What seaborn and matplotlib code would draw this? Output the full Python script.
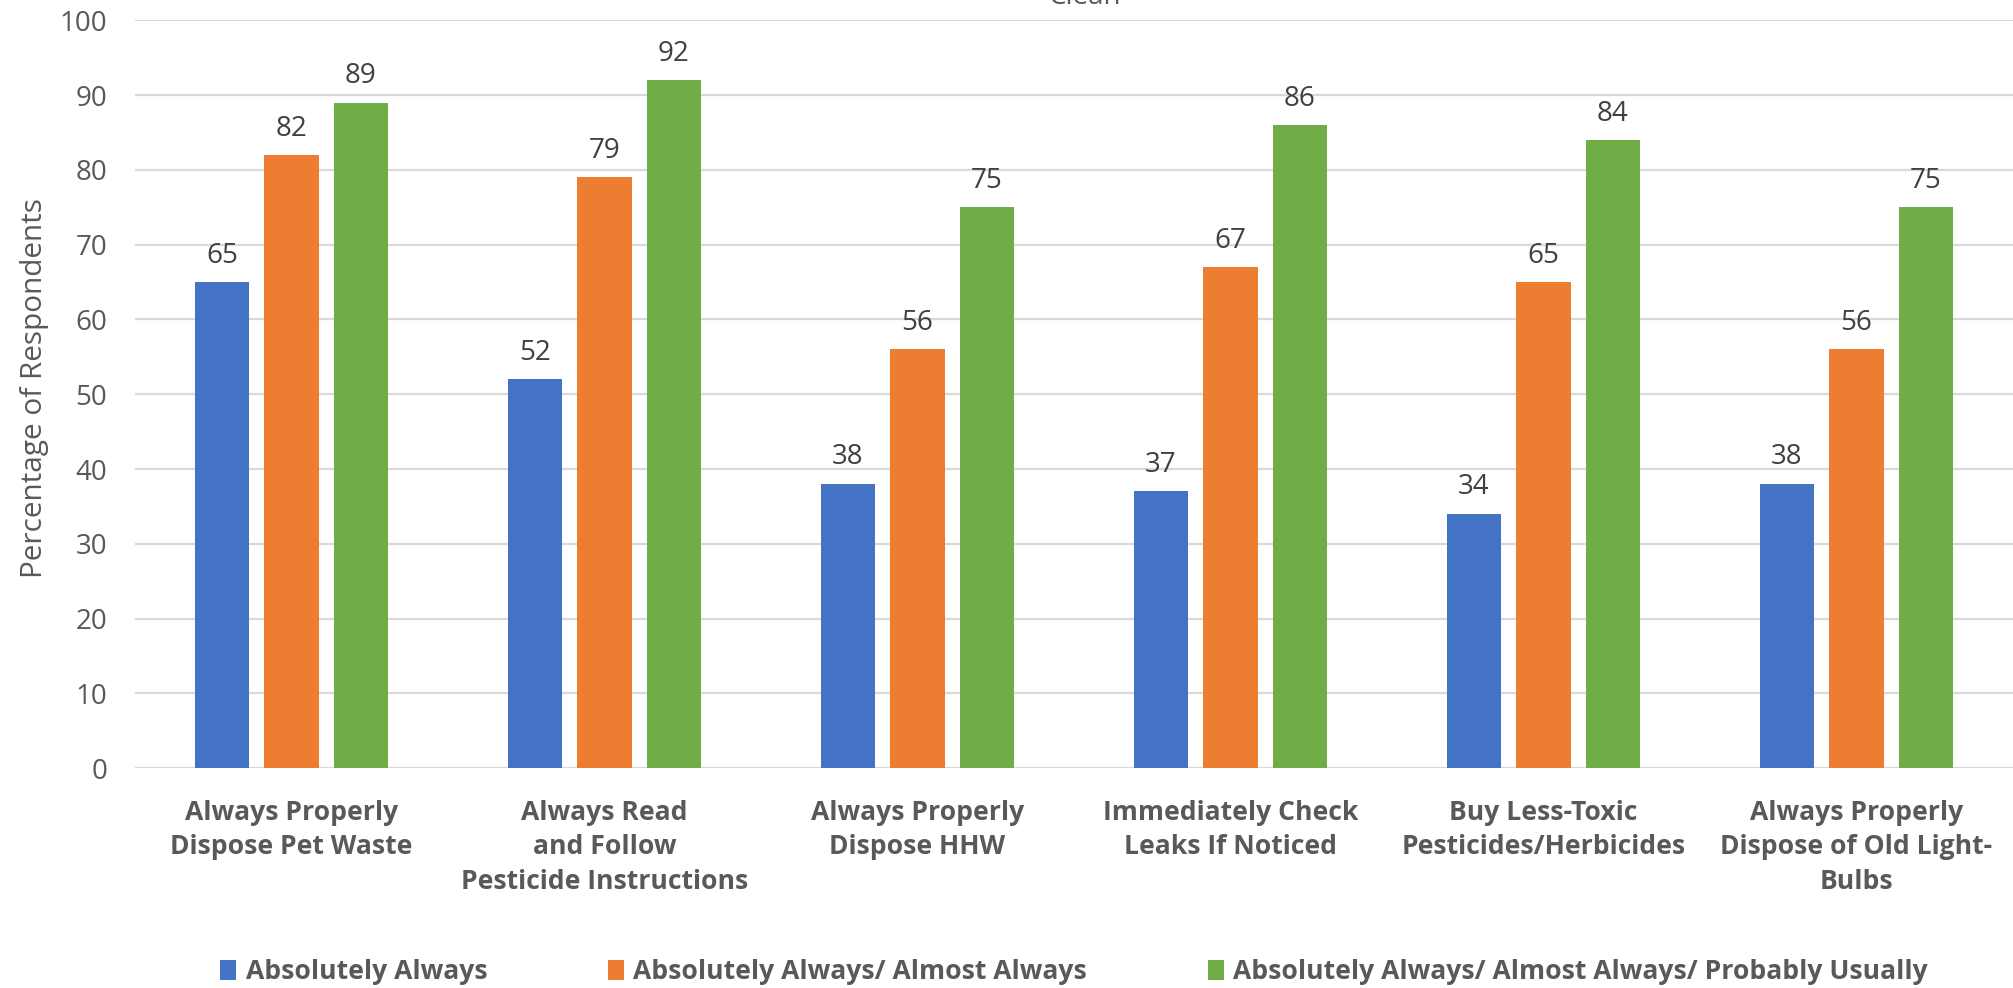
import matplotlib
matplotlib.use("Agg")
import matplotlib.pyplot as plt
from matplotlib.patches import Patch
import seaborn as sns
import pandas as pd

categories = [
    "Always Properly\nDispose Pet Waste",
    "Always Read\nand Follow\nPesticide Instructions",
    "Always Properly\nDispose HHW",
    "Immediately Check\nLeaks If Noticed",
    "Buy Less-Toxic\nPesticides/Herbicides",
    "Always Properly\nDispose of Old Light-\nBulbs",
]
series_names = [
    "Absolutely Always",
    "Absolutely Always/ Almost Always",
    "Absolutely Always/ Almost Always/ Probably Usually",
]
absolutely_always = [65, 52, 38, 37, 34, 38]
almost_always = [82, 79, 56, 67, 65, 56]
probably_usually = [89, 92, 75, 86, 84, 75]
y_ticks = [0, 10, 20, 30, 40, 50, 60, 70, 80, 90, 100]

colors = ["#4472C4", "#ED7D31", "#70AD47"]
text_gray = "#595959"
grid_gray = "#D9D9D9"

rows = []
for name, vals in zip(series_names, [absolutely_always, almost_always, probably_usually]):
    for cat, v in zip(categories, vals):
        rows.append({"Behavior": cat, "Series": name, "Percent": v})
df = pd.DataFrame(rows)

sns.set_theme(style="white")
plt.rcParams["font.family"] = ["Open Sans", "DejaVu Sans"]

fig = plt.figure(figsize=(20.13, 9.88), dpi=100)
ax = fig.add_axes([135 / 2013, 1 - 768 / 988, 1 - 135 / 2013, (768 - 20.5) / 988])

sns.barplot(
    data=df, x="Behavior", y="Percent", hue="Series",
    order=categories, hue_order=series_names, palette=colors,
    width=0.665, gap=0.22, saturation=1, legend=False, ax=ax,
    edgecolor="none",
)

for container in ax.containers:
    ax.bar_label(container, fmt="%d", padding=9, fontsize=20, color="#404040")

ax.set_xlim(-0.5, len(categories) - 0.5)
ax.set_ylim(0, 100)
ax.set_yticks(y_ticks)
ax.set_yticklabels([str(t) for t in y_ticks], fontsize=20, color=text_gray)
ax.set_xticks(range(len(categories)))
ax.set_xticklabels(categories, fontsize=19.1, fontweight="bold", color=text_gray,
                   linespacing=1.42, va="top")
ax.tick_params(axis="x", length=0, pad=23)
ax.tick_params(axis="y", length=0, pad=20)

ax.set_axisbelow(True)
ax.yaxis.grid(True, color=grid_gray, linewidth=1.6)
ax.xaxis.grid(False)
for side in ["top", "right", "left", "bottom"]:
    ax.spines[side].set_visible(False)

ax.set_xlabel("")
ax.set_ylabel("Percentage of Respondents", fontsize=21.4, color=text_gray, labelpad=12)
ax.yaxis.set_label_coords(-0.046, 0.508)

handles = [Patch(facecolor=c, edgecolor="none") for c in colors]
ax.legend(
    handles, series_names, loc="center", bbox_to_anchor=(0.5, -0.273),
    ncol=3, frameon=False, handlelength=0.6, handleheight=0.75,
    handletextpad=0.35, columnspacing=4.55,
    prop={"size": 19.1, "weight": "bold"}, labelcolor=text_gray,
)

fig.text(1085 / 2013, 1 - 4 / 988, "Clean", ha="center", va="baseline",
         fontsize=20, color=text_gray)

fig.savefig("out.png", dpi=100)
